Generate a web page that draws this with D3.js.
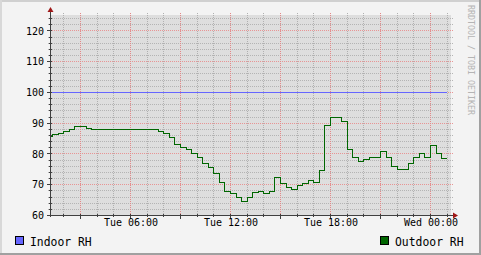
<!DOCTYPE html>
<html>
<head>
<meta charset="utf-8">
<script src="https://cdn.jsdelivr.net/npm/d3@7"></script>
<style>
  body { margin: 0; background: #f3f3f3; }
  svg { display: block; }
  text { font-family: "DejaVu Sans Mono", monospace; }
</style>
</head>
<body>
<svg id="chart" width="481" height="255"></svg>
<script>
// samples every 20 minutes, first one starts Tue 01:00
const sampleStart = new Date(2024, 0, 2, 1, 0);
const sampleMinutes = 20;

const outdoorRH = [
  85.6, 86.3, 86.5, 87.3, 87.8, 89.0, 89.0, 88.4,
  87.8, 87.8, 87.8, 87.8, 87.8, 87.8, 87.8, 87.8, 87.8,
  88.1, 87.8, 87.8, 87.3, 86.5, 85.2, 83.2, 82.2,
  81.4, 80.0, 78.7, 76.8, 75.5, 73.5, 70.8, 67.9, 67.0, 65.9, 64.5,
  65.7, 67.4, 67.7, 67.1, 67.7, 72.2, 70.3, 69.0, 68.3, 69.7, 70.3, 71.3, 70.7,
  74.5, 89.1, 91.7, 91.7, 90.7, 81.6, 78.7, 77.4, 78.1, 79.0, 79.0, 80.7, 78.7,
  75.8, 75.1, 75.1, 76.8, 78.7, 80.0, 79.0, 82.9, 80.0, 78.4
];

const indoorRH = [
  100, 100, 100, 100, 100, 100, 100, 100, 100, 100, 100, 100,
  100, 100, 100, 100, 100, 100, 100, 100, 100, 100, 100, 100,
  100, 100, 100, 100, 100, 100, 100, 100, 100, 100, 100, 100,
  100, 100, 100, 100, 100, 100, 100, 100, 100, 100, 100, 100,
  100, 100, 100, 100, 100, 100, 100, 100, 100, 100, 100, 100,
  100, 100, 100, 100, 100, 100, 100, 100, 100, 100, 100, 100
];

const yTicks = [60, 70, 80, 90, 100, 110, 120];
const seriesNames = ['Indoor RH', 'Outdoor RH'];
const seriesColors = ['#6666ff', '#006600'];

const viewStart = new Date(2024, 0, 2, 1, 12);
const viewEnd = new Date(2024, 0, 3, 1, 12);

const W = 481, H = 255;
const pL = 50, pR = 450, pT = 15, pB = 215;

const svg = d3.select('#chart');

const x = d3.scaleTime().domain([viewStart, viewEnd]).range([pL, pR]);
const y = d3.scaleLinear().domain([60, 125]).range([pB, pT]);

const px = v => Math.round(v) + 0.5;

// frame
svg.append('rect').attr('width', W).attr('height', H).attr('fill', '#f3f3f3');
svg.append('rect').attr('x', 0).attr('y', 0).attr('width', W).attr('height', 2).attr('fill', '#d0d0d0');
svg.append('rect').attr('x', 0).attr('y', 0).attr('width', 2).attr('height', H).attr('fill', '#d8d8d8');
svg.append('rect').attr('x', W - 2).attr('y', 0).attr('width', 2).attr('height', H).attr('fill', '#a0a0a0');
svg.append('rect').attr('x', 0).attr('y', H - 2).attr('width', W).attr('height', 2).attr('fill', '#a0a0a0');

// plot area
svg.append('rect')
  .attr('x', pL + 1).attr('y', pT)
  .attr('width', pR - pL).attr('height', pB - pT)
  .attr('fill', '#dedede');

const grid = svg.append('g').attr('class', 'grid').attr('shape-rendering', 'crispEdges');

const minorX = d3.timeHour.every(1).range(viewStart, viewEnd);
const majorX = d3.timeHour.every(3).range(viewStart, viewEnd);
const minorY = d3.range(62, 125, 2).filter(v => v % 10 !== 0);

// dotted lines drawn as 1px dots (every other pixel)
const vDots = xs => xs.map(d => {
  const cx = Math.round(x(d));
  return d3.range(pT - 2, pB, 2).map(r => `M${cx},${r}h1v1h-1z`).join('');
}).join('');
const hDots = vs => vs.map(v => {
  const cy = Math.round(y(v));
  return d3.range(pL - 2, pR + 3, 2).map(c => `M${c},${cy}h1v1h-1z`).join('');
}).join('');

grid.append('path')
  .attr('d', hDots(minorY))
  .attr('fill', '#b4b4b4');

grid.append('path')
  .attr('d', vDots(minorX.filter(d => d.getHours() % 3 !== 0)))
  .attr('fill', '#b0b0b0');

grid.append('path')
  .attr('d', hDots(yTicks.filter(v => v > 60)))
  .attr('fill', '#e89494');

grid.append('path')
  .attr('d', vDots(majorX))
  .attr('fill', '#e48888');

// series
const times = outdoorRH.map((v, i) => d3.timeMinute.offset(sampleStart, i * sampleMinutes));
const endTime = d3.timeMinute.offset(sampleStart, outdoorRH.length * sampleMinutes);

svg.append('clipPath').attr('id', 'clip')
  .append('rect').attr('x', pL + 1).attr('y', pT).attr('width', pR - pL).attr('height', pB - pT);

const line = d3.line()
  .x(d => px(x(d[0])) - 0.5)
  .y(d => px(y(d[1])))
  .curve(d3.curveStepAfter);

const toPoints = arr => {
  const pts = arr.map((v, i) => [times[i], v]);
  pts.push([endTime, arr[arr.length - 1]]);
  return pts;
};

const plot = svg.append('g').attr('clip-path', 'url(#clip)').attr('shape-rendering', 'crispEdges');

plot.append('path')
  .attr('d', line(toPoints(indoorRH)))
  .attr('fill', 'none').attr('stroke', seriesColors[0]).attr('stroke-width', 1);

plot.append('path')
  .attr('d', line(toPoints(outdoorRH)))
  .attr('fill', 'none').attr('stroke', seriesColors[1]).attr('stroke-width', 1);

// axes
const axisCol = '#404040';
const axes = svg.append('g').attr('shape-rendering', 'crispEdges');

axes.append('rect')
  .attr('x', pL).attr('y', pT - 3).attr('width', 1).attr('height', pB - pT + 5)
  .attr('fill', axisCol);
axes.append('rect')
  .attr('x', pL - 2).attr('y', pB).attr('width', pR - pL + 5).attr('height', 1)
  .attr('fill', axisCol);

// tick marks on axes
axes.append('path')
  .attr('d', minorX.map(d => {
    const cx = Math.round(x(d));
    const h = d.getHours() % 3 === 0 ? 5 : 3;
    return `M${cx},${pB - 1}h1v${h}h-1z`;
  }).join(''))
  .attr('fill', axisCol);
axes.append('path')
  .attr('d', d3.range(60, 125, 2).map(v => {
    const cy = Math.round(y(v));
    const x0 = v % 10 === 0 ? pL - 3 : pL - 1;
    return `M${x0},${cy}H${pL + 2}v1H${x0}z`;
  }).join(''))
  .attr('fill', axisCol);

// arrows
const arrowCol = '#a01818';
svg.append('path')
  .attr('d', `M${pL + 0.5},${pT - 8} L${pL + 3.5},${pT - 3} L${pL - 2.5},${pT - 3} Z`)
  .attr('fill', arrowCol);
svg.append('path')
  .attr('d', `M${pR + 8},${pB + 0.5} L${pR + 3},${pB - 2.5} L${pR + 3},${pB + 3.5} Z`)
  .attr('fill', arrowCol);

// labels via d3 axes
const xAxis = d3.axisBottom(x)
  .tickValues(d3.timeHour.every(6).range(viewStart, viewEnd))
  .tickFormat(d3.timeFormat('%a %H:%M'))
  .tickSize(0).tickPadding(0);

const gx = svg.append('g').attr('transform', `translate(0.5,${pB + 4})`).call(xAxis);
gx.select('.domain').remove();
gx.selectAll('text').attr('font-size', 10).attr('font-family', 'DejaVu Sans Mono').attr('fill', '#000').attr('dy', '0.71em');

const yAxis = d3.axisLeft(y).tickValues(yTicks).tickFormat(d3.format('d')).tickSize(0).tickPadding(0);
const gy = svg.append('g').attr('transform', `translate(${pL - 6},0.5)`).call(yAxis);
gy.select('.domain').remove();
gy.selectAll('text').attr('font-size', 10).attr('font-family', 'DejaVu Sans Mono').attr('fill', '#000');

// legend
const legendX = [15, 380];
const legend = svg.append('g');
seriesNames.forEach((name, i) => {
  legend.append('rect')
    .attr('x', legendX[i] + 0.5).attr('y', 236.5)
    .attr('width', 8).attr('height', 8)
    .attr('fill', seriesColors[i]).attr('stroke', '#000')
    .attr('shape-rendering', 'crispEdges');
  legend.append('text')
    .attr('x', legendX[i] + 15).attr('y', 245.5)
    .attr('font-size', 11.4).attr('fill', '#000')
    .text(name);
});

// watermark
svg.append('text')
  .attr('transform', 'translate(468,5) rotate(90)')
  .attr('font-size', 8.3).attr('fill', '#b4b4b4')
  .text('RRDTOOL / TOBI OETIKER');
</script>
</body>
</html>
